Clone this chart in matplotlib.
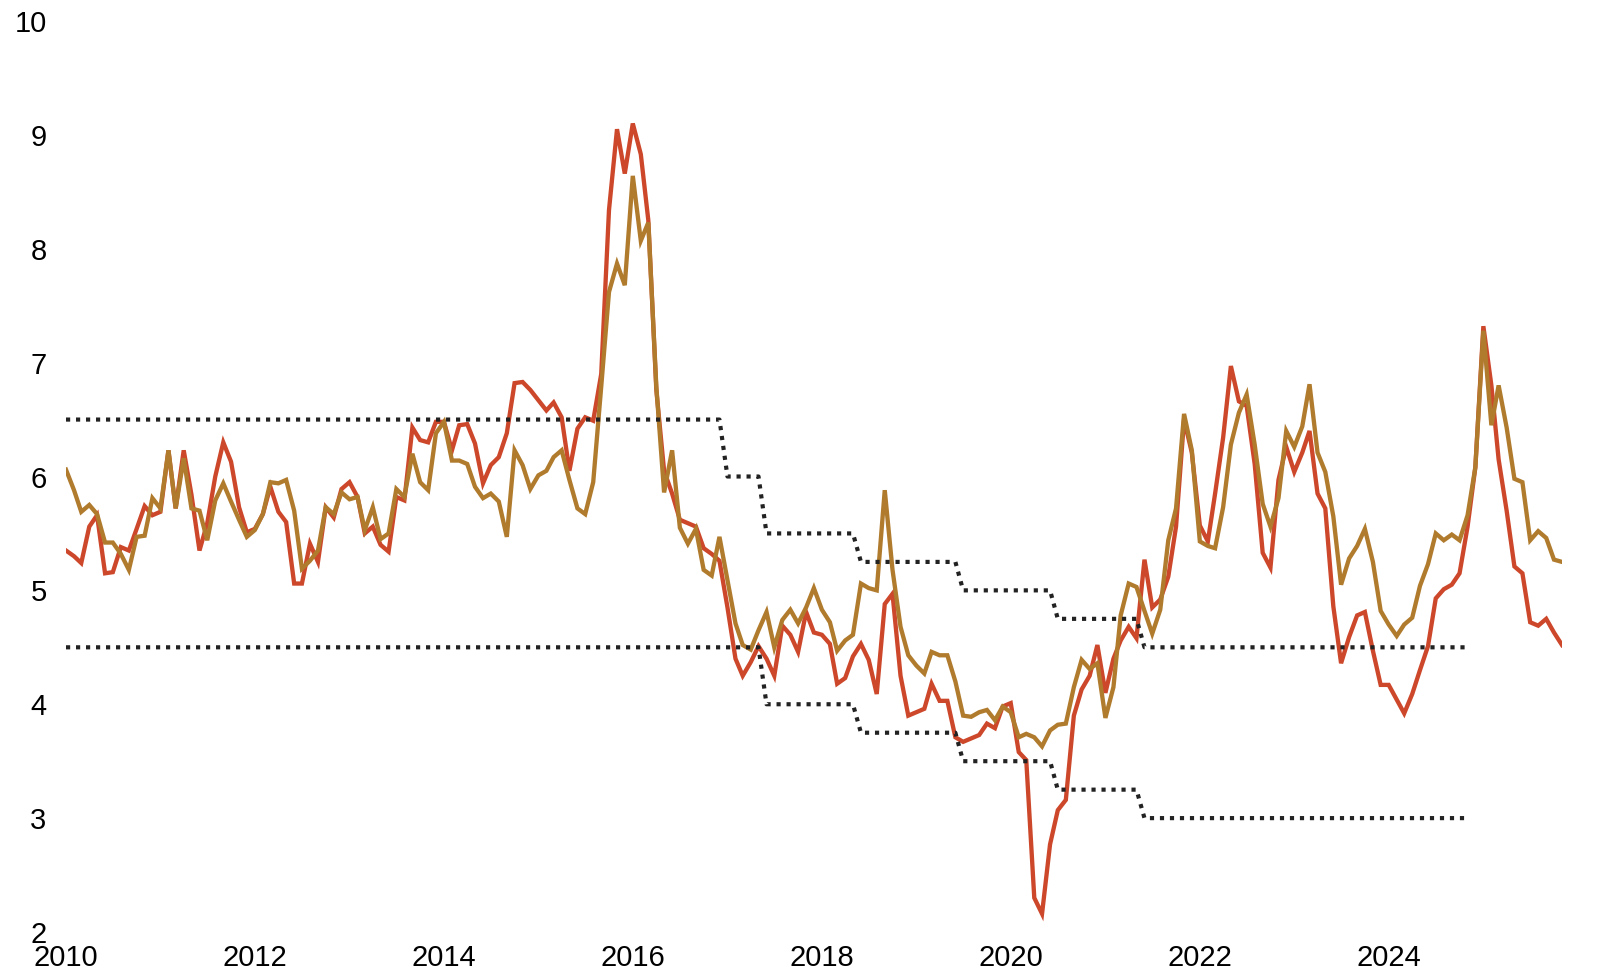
import numpy as np
import pandas as pd
import matplotlib
matplotlib.use("Agg")
import matplotlib.pyplot as plt
import matplotlib.dates as mdates

plt.rcParams['font.family'] = ['Liberation Sans', 'DejaVu Sans']

# monthly observations, Jan 2010 - Nov 2025
dates = pd.date_range("2010-01-01", periods=191, freq="MS")

red_series = [
    5.35, 5.30, 5.24, 5.56, 5.66, 5.15, 5.16, 5.38, 5.35, 5.54, 5.74, 5.66,
    5.69, 6.23, 5.72, 6.23, 5.84, 5.35, 5.59, 6.00, 6.30, 6.13, 5.73, 5.51,
    5.54, 5.67, 5.91, 5.69, 5.60, 5.06, 5.06, 5.41, 5.25, 5.73, 5.64, 5.89,
    5.95, 5.82, 5.50, 5.56, 5.40, 5.34, 5.82, 5.79, 6.43, 6.32, 6.30, 6.48,
    6.48, 6.23, 6.45, 6.46, 6.29, 5.94, 6.10, 6.17, 6.38, 6.82, 6.83, 6.76,
    6.67, 6.58, 6.65, 6.52, 6.05, 6.42, 6.52, 6.49, 6.90, 8.34, 9.05, 8.66,
    9.10, 8.83, 8.25, 6.76, 6.05, 5.85, 5.62, 5.59, 5.56, 5.37, 5.32, 5.26,
    4.85, 4.40, 4.25, 4.37, 4.51, 4.40, 4.25, 4.69, 4.61, 4.46, 4.81, 4.63,
    4.61, 4.53, 4.18, 4.23, 4.42, 4.53, 4.39, 4.09, 4.88, 4.97, 4.25, 3.90,
    3.93, 3.96, 4.18, 4.03, 4.03, 3.71, 3.67, 3.70, 3.73, 3.83, 3.79, 3.98,
    4.01, 3.58, 3.51, 2.30, 2.16, 2.77, 3.07, 3.16, 3.90, 4.13, 4.25, 4.52,
    4.10, 4.40, 4.56, 4.68, 4.58, 5.27, 4.85, 4.92, 5.12, 5.56, 6.50, 6.21,
    5.57, 5.43, 5.85, 6.34, 6.97, 6.66, 6.62, 6.11, 5.33, 5.20, 5.97, 6.26,
    6.04, 6.21, 6.40, 5.85, 5.72, 4.86, 4.36, 4.59, 4.78, 4.81, 4.47, 4.17,
    4.17, 4.04, 3.92, 4.09, 4.30, 4.51, 4.93, 5.01, 5.05, 5.15, 5.56, 6.08,
    7.32, 6.80, 6.15, 5.70, 5.21, 5.15, 4.72, 4.69, 4.75, 4.63, 4.52,
]

gold_series = [
    6.06, 5.88, 5.69, 5.75, 5.67, 5.42, 5.42, 5.32, 5.18, 5.47, 5.48, 5.81,
    5.72, 6.23, 5.72, 6.16, 5.72, 5.70, 5.44, 5.79, 5.94, 5.78, 5.62, 5.47,
    5.53, 5.67, 5.95, 5.94, 5.97, 5.70, 5.19, 5.26, 5.35, 5.73, 5.67, 5.86,
    5.80, 5.82, 5.53, 5.73, 5.45, 5.50, 5.89, 5.82, 6.20, 5.95, 5.88, 6.38,
    6.48, 6.14, 6.14, 6.11, 5.91, 5.81, 5.85, 5.78, 5.47, 6.23, 6.10, 5.89,
    6.01, 6.05, 6.17, 6.23, 5.97, 5.72, 5.67, 5.95, 6.79, 7.62, 7.87, 7.68,
    8.64, 8.07, 8.23, 6.79, 5.86, 6.23, 5.55, 5.41, 5.54, 5.18, 5.13, 5.47,
    5.09, 4.71, 4.52, 4.48, 4.65, 4.81, 4.50, 4.74, 4.83, 4.71, 4.85, 5.02,
    4.83, 4.72, 4.47, 4.56, 4.61, 5.06, 5.02, 5.00, 5.88, 5.18, 4.68, 4.43,
    4.34, 4.27, 4.46, 4.43, 4.43, 4.20, 3.90, 3.89, 3.93, 3.95, 3.86, 3.98,
    3.93, 3.71, 3.74, 3.71, 3.63, 3.77, 3.82, 3.83, 4.15, 4.39, 4.31, 4.36,
    3.88, 4.15, 4.78, 5.06, 5.03, 4.82, 4.62, 4.83, 5.44, 5.72, 6.55, 6.23,
    5.43, 5.39, 5.37, 5.73, 6.28, 6.56, 6.72, 6.28, 5.76, 5.56, 5.81, 6.40,
    6.26, 6.44, 6.81, 6.21, 6.04, 5.65, 5.05, 5.28, 5.39, 5.54, 5.25, 4.82,
    4.70, 4.60, 4.70, 4.76, 5.04, 5.23, 5.50, 5.44, 5.49, 5.44, 5.66, 6.08,
    7.28, 6.45, 6.80, 6.43, 5.98, 5.95, 5.44, 5.52, 5.46, 5.27, 5.25,
]

# target band: level and how many months it was in force (from Jan 2010)
upper_levels = [6.5, 6.0, 5.5, 5.25, 5.0, 4.75, 4.5]
upper_months = [84, 5, 12, 13, 12, 11, 42]
lower_levels = [4.5, 4.0, 3.75, 3.5, 3.25, 3.0]
lower_months = [89, 12, 13, 12, 11, 42]

y_ticks = [2, 3, 4, 5, 6, 7, 8, 9, 10]

upper_band = np.repeat(upper_levels, upper_months)
lower_band = np.repeat(lower_levels, lower_months)

fig = plt.figure(figsize=(16.18, 9.74), dpi=100)
ax = fig.add_axes([66 / 1618, 1 - 932 / 974, (1562 - 66) / 1618, (932 - 21) / 974])

ax.plot(dates, red_series, color='#cd472b', lw=3.1, solid_joinstyle='miter', zorder=2)
ax.plot(dates, gold_series, color='#b07b2d', lw=3.1, solid_joinstyle='miter', zorder=3)
ax.plot(dates[:len(upper_band)], upper_band, color='#222222', lw=3.0,
        dashes=(1.0, 1.4), zorder=4)
ax.plot(dates[:len(lower_band)], lower_band, color='#222222', lw=3.0,
        dashes=(1.0, 1.4), zorder=4)

ax.set_xlim(dates[0], dates[-1])
ax.set_ylim(2, 10)
ax.set_yticks(y_ticks)
ax.xaxis.set_major_locator(mdates.YearLocator(2))
ax.xaxis.set_major_formatter(mdates.DateFormatter('%Y'))

for s in ax.spines.values():
    s.set_visible(False)
ax.tick_params(axis='both', length=0, labelsize=21, colors='black')
ax.tick_params(axis='y', pad=14)
ax.tick_params(axis='x', pad=8.5)

fig.savefig('out.png', dpi=100)
